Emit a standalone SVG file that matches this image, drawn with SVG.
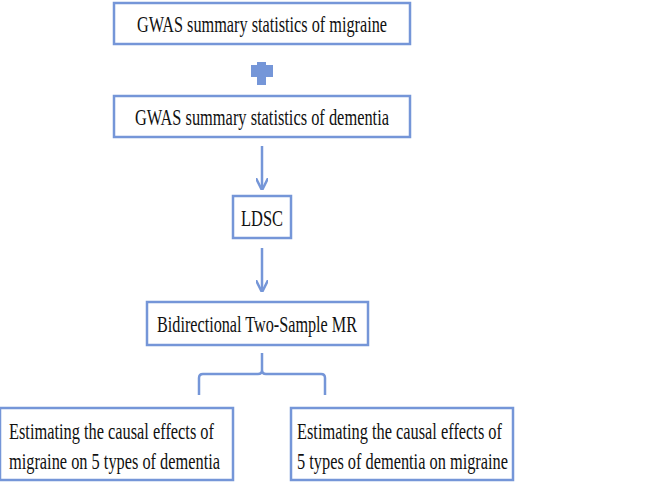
<svg xmlns="http://www.w3.org/2000/svg" width="646" height="483" viewBox="0 0 646 483">
<style>
.b{fill:#fff;stroke:#7596d8;stroke-width:2.5}
.t{font-family:"Liberation Serif","Times New Roman","DejaVu Serif",serif;font-size:24px;fill:#111}
.c{fill:none;stroke:#7596d8;stroke-width:2.5}
</style>
<defs><marker id="a" viewBox="0 0 10 10" refX="9" refY="5" markerWidth="5" markerHeight="5" orient="auto"><path d="M0,0L10,5L0,10" fill="none" stroke="#7596d8" stroke-width="2"/></marker></defs>
<rect width="646" height="483" fill="#fff"/>
<g id="n1"><rect class="b" x="114" y="3" width="296" height="41"/><text class="t" x="262" y="32" text-anchor="middle" textLength="250" lengthAdjust="spacingAndGlyphs">GWAS summary statistics of migraine</text></g>
<g id="plus"><path d="M257,62h9v3h7v12h-7v8h-9v-8h-6v-12h6z" fill="#7596d8"/></g>
<g id="n2"><rect class="b" x="114" y="96" width="296" height="41"/><text class="t" x="262" y="125" text-anchor="middle" textLength="254" lengthAdjust="spacingAndGlyphs">GWAS summary statistics of dementia</text></g>
<g id="n3"><rect class="b" x="233" y="196" width="58" height="42"/><text class="t" x="262" y="226" text-anchor="middle" textLength="42" lengthAdjust="spacingAndGlyphs">LDSC</text></g>
<g id="n4"><rect class="b" x="147" y="302" width="221" height="43"/><text class="t" x="257" y="332" text-anchor="middle" textLength="200" lengthAdjust="spacingAndGlyphs">Bidirectional Two-Sample MR</text></g>
<g id="n5"><rect class="b" x="0" y="408" width="233" height="72"/><text class="t" x="9" y="439" textLength="205" lengthAdjust="spacingAndGlyphs">Estimating the causal effects of</text><text class="t" x="9" y="469" textLength="211" lengthAdjust="spacingAndGlyphs">migraine on 5 types of dementia</text></g>
<g id="n6"><rect class="b" x="291" y="408" width="222" height="72"/><text class="t" x="297" y="439" textLength="205" lengthAdjust="spacingAndGlyphs">Estimating the causal effects of</text><text class="t" x="297" y="469" textLength="211" lengthAdjust="spacingAndGlyphs">5 types of dementia on migraine</text></g>
<g id="connectors">
<path class="c" d="M262,146V189" marker-end="url(#a)"/>
<path class="c" d="M262,248V291" marker-end="url(#a)"/>
<path class="c" d="M199,395V378Q199,374 203,374H258Q262,374 262,370V353M262,370Q262,374 266,374H321Q325,374 325,378V395"/>
</g>
</svg>
